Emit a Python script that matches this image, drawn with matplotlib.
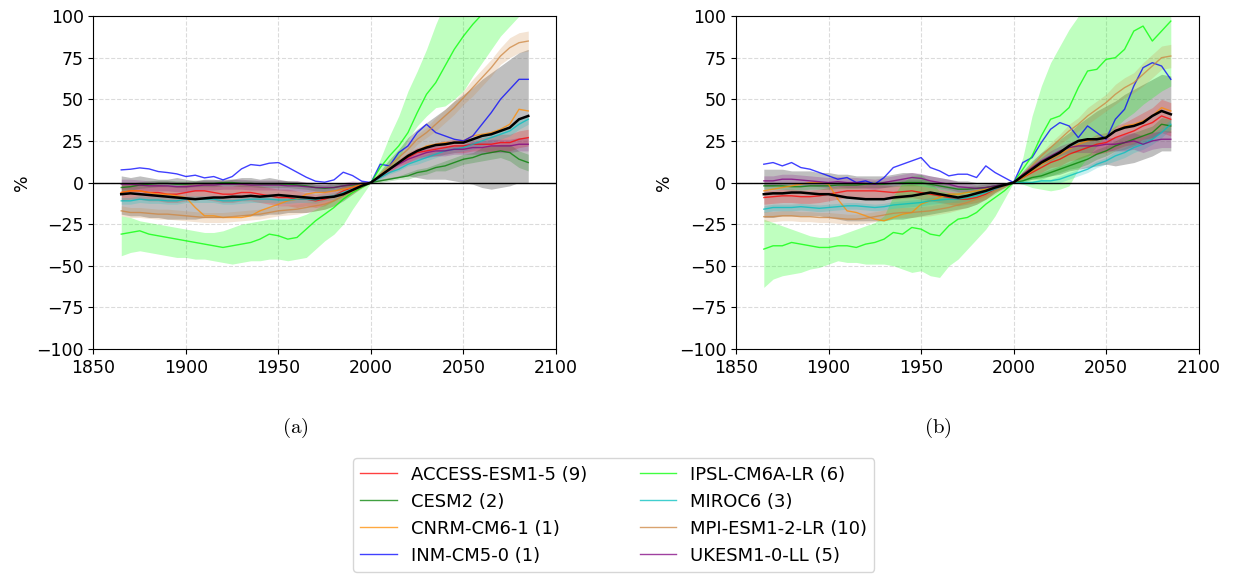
import numpy as np
import matplotlib
matplotlib.use('Agg')
import matplotlib.pyplot as plt

plt.rcParams['mathtext.fontset'] = 'cm'

years = np.arange(1865, 2086, 5)

models = ['ACCESS-ESM1-5 (9)', 'CESM2 (2)', 'CNRM-CM6-1 (1)', 'INM-CM5-0 (1)',
          'IPSL-CM6A-LR (6)', 'MIROC6 (3)', 'MPI-ESM1-2-LR (10)', 'UKESM1-0-LL (5)']
colors = ['red', 'green', 'darkorange', 'blue', 'lime', 'c', 'peru', 'purple']

# ---- panel (a) ----
a_access = [-6, -5, -5, -6, -6, -7, -7, -6, -5, -5, -6, -7, -7, -6, -6, -7, -8, -9, -9, -10,
            -10, -11, -10, -8, -5, -3, -1.5, 0,
            4, 8, 12, 15, 18, 19, 20, 21, 22, 22, 23, 23, 23, 24, 24, 26, 27]
a_cesm = [-3, -2.5, -1.5, -1, -0.5, -0.5, -1, -1, -0.5, -0.5, -0.5, 0, 0, -0.5, -0.5, -1, -1, -1, -1, -1.5,
          -2, -3, -3.5, -3, -2, -1.5, -0.5, 0,
          1, 2, 3, 4, 6, 7, 9, 10, 12, 14, 15, 17, 18, 19, 18, 14, 12]
a_cnrm = [-6, -5, -5, -6, -7, -7, -8, -9, -15, -20, -20, -21, -21, -21, -20, -17, -15, -13, -11, -10,
          -7, -6, -6, -5, -4, -3, -1, 0,
          4, 8, 12, 16, 19, 22, 23, 24, 24, 25, 28, 29, 30, 32, 35, 44, 43]
a_inm = [7.6, 8, 8.8, 8.2, 6.6, 6, 5.2, 3.6, 4.4, 2.8, 3.6, 1.6, 3.6, 8.2, 10.8, 10.2, 11.6, 12, 9.2, 6.2,
         3.2, 0.8, 0.2, 1.6, 6.2, 4.2, 0.8, 0,
         11, 10, 18, 22, 30, 35, 30, 28, 26, 25, 28, 35, 42, 50, 56, 62, 62]
a_ipsl = [-31, -30, -29, -31, -32, -33, -34, -35, -36, -37, -38, -39, -38, -37, -36, -34, -31, -32, -34, -33,
          -28, -23, -19, -15, -10, -6, -3, 0,
          9, 16, 22, 30, 42, 53, 60, 70, 80, 88, 95, 101, 108, 114, 120, 125, 130]
a_miroc = [-11, -11, -10, -10.5, -10.5, -11, -11, -10, -10, -10, -10, -11, -11, -10.5, -10, -10, -10, -10.5, -10.5, -10,
           -10, -10.5, -9, -8, -6, -4, -2, 0,
           3, 6, 8, 11, 13, 15, 17, 19, 20, 21, 23, 25, 27, 29, 31, 35, 38]
a_mpi = [-17, -18, -18, -18.5, -19, -19, -19.5, -20, -20.5, -21, -21, -21, -20.5, -20, -19.5, -19, -18, -17, -16.5, -16,
         -15, -14, -13, -11, -8, -5, -2.5, 0,
         5, 10, 15, 20, 26, 30, 35, 40, 45, 51, 57, 63, 69, 76, 81, 84, 85]
a_ukesm = [-1, -1, -1.5, -2, -2, -2, -2.5, -2.5, -2, -1.5, -1.5, -1, -1, -1, -1.5, -1.5, -1.5, -1.5, -2, -2,
           -2.5, -3, -3, -3, -2, -1, -0.5, 0,
           4, 8, 11, 14, 16, 18, 19, 19, 20, 20, 21, 21, 22, 22, 22, 23, 23]
a_mean = [-7, -6.5, -7, -7.5, -8, -8.5, -9, -9.5, -10, -9.5, -9, -9, -8.5, -8.5, -8, -8.5, -8, -7.5, -8, -8.5,
          -9, -9.5, -9, -8.5, -7, -4.5, -2, 0,
          4, 8, 12, 16, 19, 21, 22.5, 23, 24, 24, 26, 28, 29, 31, 33, 38, 40]
a_mean_hi = [4, 3, 4, 3, 2, 2, 3, 2, 1, 2, 2, 1, 2, 3, 3, 2, 3, 2, 1, 1,
             0, -1, -1, 0, 0, 0, 0, 0,
             7, 14, 20, 27, 32, 36, 40, 44, 49, 53, 57, 62, 66, 70, 74, 78, 80]
a_mean_lo = [-19, -20, -20, -21, -21, -22, -22, -22, -22, -21, -21, -21, -20, -20, -20, -20, -19, -19, -18, -18,
             -18, -17, -16, -14, -11, -7, -3, 0,
             1, 2, 3, 4, 3, 2, 2, 2, 1, 0, -1, -3, -4, -3, -2, 0, 0]
a_ipsl_hi = [-20, -21, -23, -24, -25, -26, -27, -28, -29, -30, -30, -29, -27, -25, -24, -23, -22, -22, -22, -21,
             -19, -16, -13, -10, -7, -4, -1, 0,
             14, 28, 40, 55, 67, 80, 95, 108, 115, 120, 125, 130, 135, 140, 140, 140, 140]
a_ipsl_lo = [-44, -42, -41, -42, -43, -44, -45, -45, -46, -46, -47, -48, -49, -48, -47, -47, -46, -46, -47, -46,
             -45, -40, -35, -31, -25, -16, -8, 0,
             3, 9, 14, 26, 34, 40, 45, 46, 50, 55, 64, 72, 80, 88, 94, 100, 104]
# half spread of the member range (models with >1 member)
a_access_sd = [5, 5, 5, 5, 5, 5, 5, 5, 5, 5, 5, 5, 5, 5, 5, 5, 5, 5, 5, 5, 4, 4, 4, 3, 3, 2, 1, 0,
               1, 2, 2, 3, 3, 3, 4, 4, 4, 4, 4, 4, 5, 5, 5, 5, 5]
a_cesm_sd = [2, 2, 2, 2, 2, 2, 2, 2, 2, 2, 2, 2, 2, 2, 2, 2, 2, 2, 2, 2, 2, 2, 2, 2, 2, 1, 1, 0,
             1, 1, 1, 2, 2, 2, 2, 3, 3, 3, 3, 4, 4, 4, 5, 5, 5]
a_miroc_sd = [2, 2, 2, 2, 2, 2, 2, 2, 2, 2, 2, 2, 2, 2, 2, 2, 2, 2, 2, 2, 2, 2, 2, 2, 2, 1, 1, 0,
              1, 1, 1, 1, 2, 2, 2, 2, 2, 2, 3, 3, 3, 3, 3, 3, 3]
a_mpi_sd = [3, 3, 3, 3, 3, 3, 3, 3, 3, 3, 3, 3, 3, 3, 3, 3, 3, 3, 3, 3, 3, 3, 3, 3, 2, 2, 1, 0,
            1, 2, 2, 3, 3, 3, 4, 4, 4, 4, 5, 5, 5, 5, 6, 6, 6]
a_ukesm_sd = [3, 3, 3, 3, 3, 3, 3, 3, 3, 3, 3, 3, 3, 3, 3, 3, 3, 3, 3, 3, 3, 3, 3, 2, 2, 2, 1, 0,
              1, 1, 2, 2, 2, 3, 3, 3, 3, 3, 4, 4, 4, 4, 4, 4, 4]

# ---- panel (b) ----
b_access = [-9, -8.5, -8, -8, -8.5, -8.5, -8, -7, -6, -5, -5, -5, -5, -5.5, -6, -5.5, -5, -6, -7, -8,
            -9, -10, -10, -9, -7, -4, -2, 0,
            3, 6, 9, 12, 14, 17, 19, 21, 23, 24, 27, 29, 31, 34, 36, 40, 38]
b_cesm = [-2, -2, -2, -2.5, -2.5, -2, -2, -2, -1.5, -1.5, -1.5, -1, -1, -1, -0.5, 0, 0, 0, -1, -2,
          -3, -4, -4, -3.5, -3, -2, -1, 0,
          1, 3, 4, 6, 8, 10, 12, 14, 17, 19, 22, 24, 26, 28, 30, 35, 34]
b_cnrm = [-5, -4, -3, -2, -1, 0, 0, -1, -10, -17, -18, -20, -22, -23, -21, -19, -18, -13, -11, -9,
          -7, -7, -6, -5, -4, -3, -1.5, 0,
          3, 7, 11, 14, 17, 20, 23, 25, 26, 27, 31, 34, 35, 37, 40, 45, 43]
b_inm = [11, 12, 10, 12, 9, 8, 6, 4, 2, 3, 0, 1, -1, 3, 9, 11, 13, 15, 9, 7,
         4, 5, 5, 3, 10, 6, 3, 0,
         12, 15, 24, 32, 36, 34, 27, 34, 30, 26, 38, 44, 58, 69, 72, 70, 62]
b_ipsl = [-40, -38, -38, -36, -37, -38, -39, -39, -38, -38, -39, -37, -36, -34, -30, -31, -27, -28, -31, -32,
          -26, -22, -21, -18, -13, -9, -5, 0,
          8, 16, 28, 38, 40, 45, 57, 67, 68, 74, 75, 80, 91, 94, 85, 91, 97]
b_miroc = [-16, -15, -15, -15, -14.5, -15, -15.5, -15, -14.5, -14, -14, -14.5, -15, -14.5, -13.5, -13, -12.5, -12, -11, -10.5,
           -10, -10, -9, -8, -6, -4, -2, 0,
           0, 0, 1, 1, 2, 4, 6, 8, 11, 13, 16, 18, 21, 23, 26, 30, 35]
b_mpi = [-20.5, -20.5, -20, -20, -20.5, -20.5, -21, -21, -21.5, -22, -22, -21.5, -20.5, -19.5, -18.5, -18, -18, -17.5, -17, -16,
         -15, -13.5, -12, -10, -8, -5, -2.5, 0,
         5, 10, 16, 21, 26, 31, 35, 40, 44, 48, 53, 57, 60, 65, 70, 75, 76]
b_ukesm = [1, 1, 2, 2, 1.5, 1, 0.5, 0, 0.5, 0, 0, -0.5, -1, 0, 1, 2, 3, 2.5, 1, 0,
           -1, -2.5, -3, -3.5, -3, -2, -1, 0,
           5, 9, 13, 16, 19, 21, 22, 22, 22, 23, 23, 24, 25, 23, 25, 26, 26]
b_mean = [-7, -6.5, -6.5, -6, -6, -6.5, -7, -7, -8, -9, -9.5, -10, -10, -10, -9, -8.5, -8, -7, -6, -7,
          -8, -9, -8, -6.5, -5, -3, -1.5, 0,
          4, 8, 12, 15, 18, 22, 25, 26, 26, 27, 31, 33, 34, 36, 40, 43, 41]
b_mean_hi = [8, 8, 8, 7, 7, 7, 6, 6, 5, 5, 4, 4, 4, 4, 5, 6, 6, 5, 4, 3,
             2, 1, 1, 0, 0, 0, 0, 0,
             7, 13, 18, 22, 26, 30, 35, 39, 43, 46, 49, 53, 56, 59, 62, 65, 64]
b_mean_lo = [-21, -21, -20, -20, -20, -20, -20, -21, -22, -23, -23, -23, -23, -23, -22, -22, -21, -20, -19, -18,
             -17, -16, -15, -13, -10, -6, -3, 0,
             1, 2, 3, 4, 5, 7, 8, 9, 10, 11, 10, 11, 12, 14, 16, 19, 19]
b_ipsl_hi = [-22, -24, -26, -28, -30, -32, -33, -33, -32, -30, -28, -26, -24, -20, -8, 0, 4, 5, 0, -5,
             -6, -6, -5, -4, -3, -2, -1, 0,
             15, 40, 58, 72, 82, 92, 100, 108, 115, 120, 125, 130, 135, 140, 140, 140, 140]
b_ipsl_lo = [-63, -58, -56, -55, -54, -52, -51, -49, -47, -48, -48, -49, -49, -49, -50, -52, -54, -53, -56, -57,
             -50, -46, -40, -34, -28, -20, -10, 0,
             -1, -3, -4, -5, -4, -2, 8, 15, 22, 28, 33, 38, 42, 47, 51, 55, 58]
b_access_sd = [4, 4, 4, 4, 4, 4, 4, 4, 4, 4, 4, 4, 4, 4, 4, 4, 4, 4, 4, 4, 4, 4, 3, 3, 3, 2, 1, 0,
               1, 2, 3, 3, 4, 4, 5, 5, 6, 6, 7, 7, 8, 8, 9, 10, 10]
b_cesm_sd = [2, 2, 2, 2, 2, 2, 2, 2, 2, 2, 2, 2, 2, 2, 2, 2, 2, 2, 2, 2, 2, 2, 2, 2, 2, 1, 1, 0,
             1, 1, 2, 2, 2, 2, 3, 3, 3, 3, 3, 4, 4, 4, 4, 4, 4]
b_miroc_sd = [2, 2, 2, 2, 2, 2, 2, 2, 2, 2, 2, 2, 2, 2, 2, 2, 2, 2, 2, 2, 2, 2, 2, 2, 2, 1, 1, 0,
              1, 1, 1, 1, 2, 2, 2, 2, 2, 2, 3, 3, 3, 3, 3, 3, 3]
b_mpi_sd = [3, 3, 3, 3, 3, 3, 3, 3, 3, 3, 3, 3, 3, 3, 3, 3, 3, 3, 3, 3, 3, 3, 3, 3, 2, 2, 1, 0,
            1, 2, 2, 3, 3, 4, 4, 5, 5, 5, 6, 6, 6, 7, 7, 7, 7]
b_ukesm_sd = [3, 3, 3, 3, 3, 3, 3, 3, 3, 3, 3, 3, 3, 3, 3, 3, 3, 3, 3, 3, 3, 3, 3, 2, 2, 2, 1, 0,
              1, 2, 2, 3, 3, 3, 4, 4, 4, 4, 4, 5, 5, 5, 5, 5, 5]


def draw_panel(ax, series, spreads, ipsl_band, mean, mean_band, tag, tag_x):
    ax.fill_between(years, mean_band[0], mean_band[1], color='gray', alpha=0.5, lw=0)
    for name, col, y in zip(models, colors, series):
        y = np.array(y, dtype=float)
        if name in spreads:
            sd = np.array(spreads[name], dtype=float)
            ax.fill_between(years, y - sd, y + sd, color=col, alpha=0.22, lw=0)
        if name.startswith('IPSL'):
            ax.fill_between(years, ipsl_band[0], ipsl_band[1], color=col, alpha=0.25, lw=0)
        ax.plot(years, y, color=col, lw=1, alpha=0.75, label=name)
    ax.plot(years, mean, color='black', lw=1.8)
    ax.axhline(0, color='black', lw=1)
    ax.set_xlim(1850, 2100)
    ax.set_ylim(-100, 100)
    ax.set_xticks(np.arange(1850, 2101, 50))
    ax.set_yticks(np.arange(-100, 101, 25))
    ax.tick_params(labelsize=12.5)
    ax.grid(True, ls='--', color='lightgray', alpha=0.8)
    ax.set_axisbelow(True)
    ax.set_ylabel('%', fontsize=12.5)
    fig.text(tag_x, 0.255, r'$\mathrm{(' + tag + ')}$', ha='center', va='center', fontsize=15)


fig = plt.figure(figsize=(12.35, 5.74), dpi=100)
ax1 = fig.add_axes([0.0757, 0.392, 0.3745, 0.580])
ax2 = fig.add_axes([0.596, 0.392, 0.3745, 0.580])

draw_panel(ax1, [a_access, a_cesm, a_cnrm, a_inm, a_ipsl, a_miroc, a_mpi, a_ukesm],
           {models[0]: a_access_sd, models[1]: a_cesm_sd, models[5]: a_miroc_sd,
            models[6]: a_mpi_sd, models[7]: a_ukesm_sd},
           (a_ipsl_lo, a_ipsl_hi), a_mean, (a_mean_lo, a_mean_hi), 'a', 0.239)
draw_panel(ax2, [b_access, b_cesm, b_cnrm, b_inm, b_ipsl, b_miroc, b_mpi, b_ukesm],
           {models[0]: b_access_sd, models[1]: b_cesm_sd, models[5]: b_miroc_sd,
            models[6]: b_mpi_sd, models[7]: b_ukesm_sd},
           (b_ipsl_lo, b_ipsl_hi), b_mean, (b_mean_lo, b_mean_hi), 'b', 0.759)

handles, labels = ax1.get_legend_handles_labels()
fig.legend(handles, labels, loc='lower center', bbox_to_anchor=(0.497, -0.012), ncol=2,
           fontsize=13, columnspacing=2.9)

fig.savefig('out.png', dpi=100)
